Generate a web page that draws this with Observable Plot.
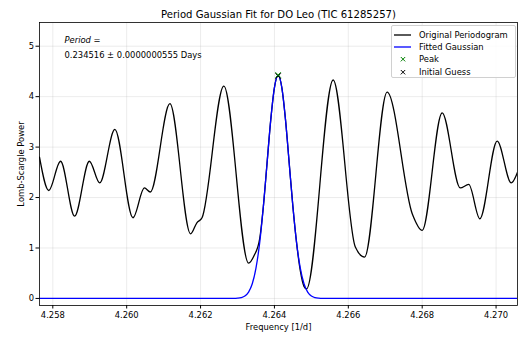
<!DOCTYPE html>
<html>
<head>
<meta charset="utf-8">
<script src="https://cdn.jsdelivr.net/npm/d3@7"></script>
<script src="https://cdn.jsdelivr.net/npm/@observablehq/plot@0.6"></script>
<style>
  body { margin: 0; background: #fff; }
  #wrap { position: relative; width: 520px; height: 337px; font-family: "DejaVu Sans", sans-serif; background: #fff; }
  #wrap svg { display: block; }
  .legend { position: absolute; left: 391px; top: 25px; width: 125px; height: 53px; box-sizing: border-box;
            border: 1px solid #d0d0d0; border-radius: 2px; background: rgba(255,255,255,0.85);
            padding-top: 3px; font-size: 8.4px; color: #000; }
  .row { display: flex; align-items: center; height: 12.2px; }
  .row svg { margin-left: 2px; margin-right: 7px; }
</style>
</head>
<body>
<div id="wrap"></div>
<script>
// ---- Data ----
const titleText = "Period Gaussian Fit for DO Leo (TIC 61285257)";
const xLabel = "Frequency [1/d]";
const yLabel = "Lomb-Scargle Power";
const periodLabel = "Period =";
const periodValue = "0.234516 \u00b1 0.0000000555 Days";

const xTicks = [4.258, 4.260, 4.262, 4.264, 4.266, 4.268, 4.270];
const yTicks = [0, 1, 2, 3, 4, 5];
const xDomain = [4.25764, 4.27058];
const yDomain = [-0.14, 5.47];

// Original periodogram (frequency, power)
const periodogramFreq = [
  4.25764, 4.25789, 4.25821, 4.25859, 4.25899, 4.25927, 4.25968, 4.26017,
  4.26048, 4.26064, 4.26117, 4.26173, 4.26190, 4.26204, 4.26263, 4.26330,
  4.26345, 4.26360, 4.26370, 4.26380, 4.26390, 4.26400, 4.26410, 4.26420,
  4.26430, 4.26440, 4.26450, 4.26460, 4.26470, 4.26480, 4.26487, 4.26559,
  4.26619, 4.26644, 4.26705, 4.26773, 4.26800, 4.26854, 4.26903, 4.26926,
  4.26956, 4.27003, 4.27041, 4.27060
];
const periodogramPower = [
  2.80, 2.14, 2.72, 1.63, 2.72, 2.29, 3.35, 1.60,
  2.19, 2.11, 3.86, 1.28, 1.50, 1.60, 4.21, 0.70,
  0.85, 1.18, 1.82, 2.68, 3.54, 4.18, 4.42, 4.18,
  3.54, 2.68, 1.82, 1.10, 0.55, 0.24, 0.19, 4.33,
  1.02, 0.82, 4.09, 1.68, 1.35, 3.68, 2.19, 2.26,
  1.58, 3.12, 2.29, 2.54
];

// Fitted Gaussian (frequency, power)
const fitFreq = [
  4.25764, 4.26270, 4.26290, 4.26300, 4.26310, 4.26320, 4.26330, 4.26340,
  4.26350, 4.26360, 4.26370, 4.26380, 4.26390, 4.26400, 4.26410, 4.26420,
  4.26430, 4.26440, 4.26450, 4.26460, 4.26470, 4.26480, 4.26490, 4.26500,
  4.26510, 4.26520, 4.26530, 4.26550, 4.27060
];
const fitPower = [
  0, 0, 0.001, 0.005, 0.017, 0.049, 0.126, 0.29,
  0.60, 1.10, 1.82, 2.68, 3.54, 4.18, 4.42, 4.18,
  3.54, 2.68, 1.82, 1.10, 0.60, 0.29, 0.126, 0.049,
  0.017, 0.005, 0.001, 0, 0
];

const peakPoint = [{f: 4.26410, p: 4.43}];
const guessPoint = [{f: 4.26410, p: 4.41}];

const legendLabels = ["Original Periodogram", "Fitted Gaussian", "Peak", "Initial Guess"];
const legendColors = ["#000000", "#0000ff", "#008000", "#000000"];
const legendKinds = ["line", "line", "x", "x"];

// ---- Build tables ----
const periodogram = periodogramFreq.map((f, i) => ({f, p: periodogramPower[i]}));
const fitted = fitFreq.map((f, i) => ({f, p: fitPower[i]}));

const chart = Plot.plot({
  width: 520,
  height: 337,
  marginLeft: 39,
  marginRight: 3,
  marginTop: 22,
  marginBottom: 32,
  style: {fontFamily: "DejaVu Sans, sans-serif", fontSize: "8.4px", background: "white", color: "black"},
  x: {domain: xDomain, label: null},
  y: {domain: yDomain, label: null},
  marks: [
    Plot.gridX(xTicks, {stroke: "#b0b0b0", strokeOpacity: 0.3, strokeWidth: 0.8}),
    Plot.gridY(yTicks, {stroke: "#b0b0b0", strokeOpacity: 0.3, strokeWidth: 0.8}),
    Plot.line(periodogram, {x: "f", y: "p", stroke: "#000", strokeWidth: 1.3, curve: "monotone-x", clip: true}),
    Plot.line(fitted, {x: "f", y: "p", stroke: "#0000ff", strokeWidth: 1.3, curve: "monotone-x", clip: true}),
    Plot.dot(guessPoint, {x: "f", y: "p", symbol: "times", stroke: "#000", r: 2.6, strokeWidth: 1}),
    Plot.dot(peakPoint, {x: "f", y: "p", symbol: "times", stroke: "#008000", r: 2.6, strokeWidth: 1}),
    Plot.axisX(xTicks, {tickSize: 3.5, tickPadding: 3, tickFormat: d3.format(".3f"), label: null}),
    Plot.axisY(yTicks, {tickSize: 3.5, tickPadding: 2, tickFormat: d3.format("d"), label: null}),
    Plot.frame({stroke: "#000", strokeWidth: 0.8}),
    Plot.text([titleText], {frameAnchor: "top", dy: -8, lineAnchor: "middle", fontSize: 10.1}),
    Plot.text([xLabel], {frameAnchor: "bottom", dy: 21.5, lineAnchor: "middle", fontSize: 8.4}),
    Plot.text([yLabel], {frameAnchor: "left", dx: -18.5, rotate: -90, textAnchor: "middle", lineAnchor: "middle", fontSize: 8.4}),
    Plot.text([periodLabel], {frameAnchor: "top-left", dx: 25, dy: 18, textAnchor: "start", lineAnchor: "middle", fontStyle: "italic", fontSize: 8.4}),
    Plot.text([periodValue], {frameAnchor: "top-left", dx: 25, dy: 32.5, textAnchor: "start", lineAnchor: "middle", fontSize: 8.4})
  ]
});

const wrap = document.getElementById("wrap");
wrap.appendChild(chart);

// Legend
const legend = document.createElement("div");
legend.className = "legend";
legendLabels.forEach((label, i) => {
  const row = document.createElement("div");
  row.className = "row";
  const ns = "http://www.w3.org/2000/svg";
  const sw = document.createElementNS(ns, "svg");
  sw.setAttribute("width", "18");
  sw.setAttribute("height", "10");
  if (legendKinds[i] === "line") {
    const l = document.createElementNS(ns, "line");
    l.setAttribute("x1", "0"); l.setAttribute("x2", "17");
    l.setAttribute("y1", "5"); l.setAttribute("y2", "5");
    l.setAttribute("stroke", legendColors[i]);
    l.setAttribute("stroke-width", "1.3");
    sw.appendChild(l);
  } else {
    const p = document.createElementNS(ns, "path");
    p.setAttribute("d", "M6.8,3L11.2,7.4M11.2,3L6.8,7.4");
    p.setAttribute("stroke", legendColors[i]);
    p.setAttribute("stroke-width", "1");
    p.setAttribute("fill", "none");
    sw.appendChild(p);
  }
  row.appendChild(sw);
  const t = document.createElement("span");
  t.textContent = label;
  row.appendChild(t);
  legend.appendChild(row);
});
wrap.appendChild(legend);
</script>
</body>
</html>
